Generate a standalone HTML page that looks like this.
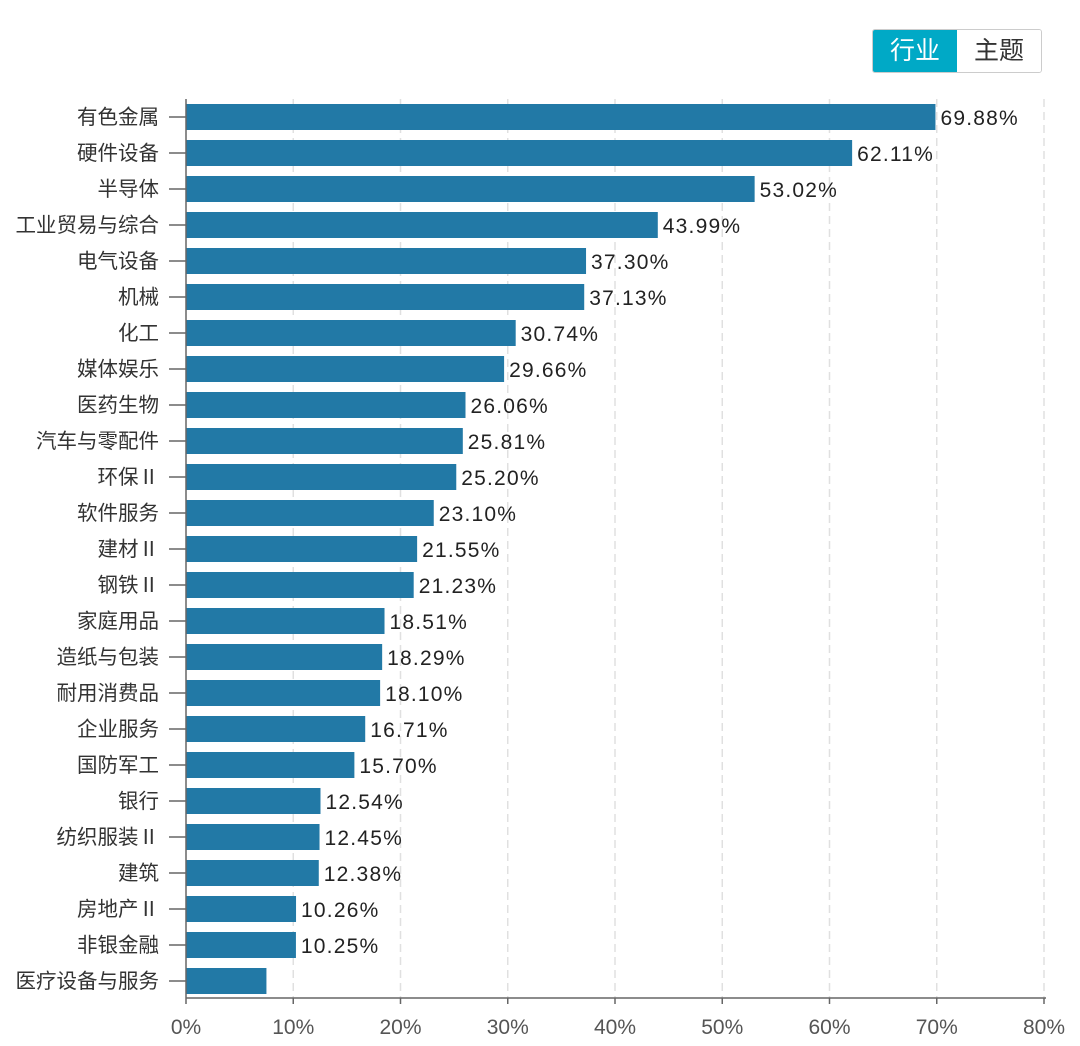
<!DOCTYPE html>
<html><head><meta charset="utf-8"><style>
body{margin:0;background:#fff;width:1080px;height:1046px;overflow:hidden;font-family:"Liberation Sans","Noto Sans CJK SC",sans-serif}
.btns{position:absolute;left:872px;top:29px;height:42px;display:flex;border:1px solid #ccc;border-radius:3px;overflow:hidden}
.btn{width:84px;height:42px;line-height:42px;text-align:center;font-size:25px;color:#333;background:#fff}
.btn.on{background:#00a9c6;color:#fff}
</style></head><body>
<div class="btns">
<div class="btn on">行业</div>
<div class="btn">主题</div>
</div>
<svg id="chart" width="1080" height="1046" style="position:absolute;left:0;top:0"></svg>
<script>
const categories=["有色金属","硬件设备","半导体","工业贸易与综合","电气设备","机械","化工","媒体娱乐","医药生物","汽车与零配件","环保Ⅱ","软件服务","建材Ⅱ","钢铁Ⅱ","家庭用品","造纸与包装","耐用消费品","企业服务","国防军工","银行","纺织服装Ⅱ","建筑","房地产Ⅱ","非银金融","医疗设备与服务"];
const values=[69.88,62.11,53.02,43.99,37.30,37.13,30.74,29.66,26.06,25.81,25.20,23.10,21.55,21.23,18.51,18.29,18.10,16.71,15.70,12.54,12.45,12.38,10.26,10.25,7.5];
const showLabel=[1,1,1,1,1,1,1,1,1,1,1,1,1,1,1,1,1,1,1,1,1,1,1,1,0];
const ticks=[0,10,20,30,40,50,60,70,80];
const svg=document.getElementById('chart');const NS='http://www.w3.org/2000/svg';
const x0=186,x1=1044,xmax=80,yTop=99,step=36,bh=26,axisY=998;
const xs=v=>x0+(x1-x0)*v/xmax;
const yc=i=>yTop+step*i+step/2;
function mk(t,a){const e=document.createElementNS(NS,t);for(const k in a)e.setAttribute(k,a[k]);svg.appendChild(e);return e;}
ticks.forEach((t,i)=>{
 if(t>0){const g=mk('line',{x1:xs(t),x2:xs(t),y1:yTop,y2:axisY,stroke:'#e0e0e0','stroke-dasharray':'8,5','stroke-width':1.5});
 
 }
 const tk=mk('line',{x1:xs(t),x2:xs(t),y1:axisY,y2:axisY+6,stroke:'#666','stroke-width':1.5});
 
 
 const tl=mk('text',{x:xs(t),y:axisY+36,'text-anchor':'middle','font-size':21,fill:'#555'});tl.textContent=t+'%';
 
 
});
categories.forEach((c,i)=>{
 const y=yc(i);
 const b=mk('rect',{x:x0,y:y-bh/2,width:xs(values[i])-x0,height:bh,fill:'#2279a6'});
 
 
 const tk=mk('line',{x1:x0-17,x2:x0,y1:y,y2:y,stroke:'#666','stroke-width':1.5});
 
 
 const l=mk('text',{x:x0-27,y:y+7,'text-anchor':'end','font-size':20.5,fill:'#333'});l.textContent=c;
 
 
 if(showLabel[i]){const v=mk('text',{x:xs(values[i])+5,y:y+8,'font-size':21,fill:'#222','letter-spacing':'1.2'});v.textContent=values[i].toFixed(2)+'%';
 
 }
});
const ya=mk('line',{x1:x0,x2:x0,y1:yTop,y2:axisY,stroke:'#666','stroke-width':1.5});


const xa=mk('line',{x1:x0,x2:x1+2,y1:axisY,y2:axisY,stroke:'#666','stroke-width':1.5});


</script>
</body></html>
